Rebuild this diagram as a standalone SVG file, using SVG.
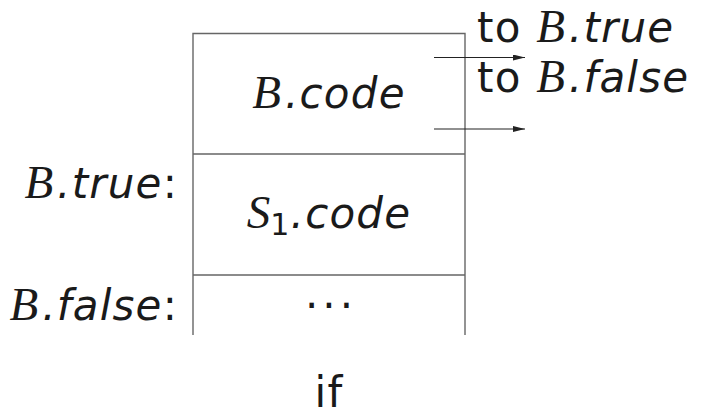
<svg xmlns="http://www.w3.org/2000/svg" width="702" height="414" viewBox="0 0 702 414">
<style>
.ln{stroke:#666;stroke-width:1.4;fill:none}
.ar{stroke:#222;stroke-width:1.2;fill:none}
text{font-family:"DejaVu Sans",sans-serif;font-size:42px;letter-spacing:1.2px;fill:#1a1a1a}
.m{font-family:"Liberation Serif",serif;font-style:italic;font-size:47px;letter-spacing:0}
.i{font-style:oblique}
.d{letter-spacing:4px}
</style>
<defs>
<marker id="ah" viewBox="0 0 12 6" refX="12" refY="3" markerWidth="12" markerHeight="6" markerUnits="userSpaceOnUse" orient="auto">
<path d="M0,0 L12,3 L0,6 Z" fill="#222"/>
</marker>
</defs>
<g id="frame">
<path class="ln" d="M193,335 V33.5 H465 V335 M193,154 H465 M193,275 H465"/>
</g>
<g id="bcode"><text x="329" y="108" text-anchor="middle"><tspan class="m">B</tspan><tspan class="i" dx="4">.code</tspan></text></g>
<g id="s1code"><text x="329" y="228" text-anchor="middle"><tspan class="m">S</tspan><tspan font-size="30" dy="7">1</tspan><tspan class="i" dy="-7">.code</tspan></text></g>
<g id="dots"><text class="d" x="331" y="320" text-anchor="middle">···</text></g>
<g id="btrue"><text x="178" y="198" text-anchor="end"><tspan class="m">B</tspan><tspan class="i" dx="4">.true</tspan>:</text></g>
<g id="bfalse"><text x="178" y="320" text-anchor="end"><tspan class="m">B</tspan><tspan class="i" dx="4">.false</tspan>:</text></g>
<g id="totrue"><text x="477" y="42">to <tspan class="m">B</tspan><tspan class="i" dx="4">.true</tspan></text></g>
<g id="tofalse"><text x="477" y="92">to <tspan class="m">B</tspan><tspan class="i" dx="4">.false</tspan></text></g>
<g id="caption"><text x="329" y="407" text-anchor="middle">if</text></g>
<g id="connectors">
<line class="ar" x1="434" y1="57.5" x2="525" y2="57.5" marker-end="url(#ah)"/>
<line class="ar" x1="434" y1="129" x2="525" y2="129" marker-end="url(#ah)"/>
</g>
</svg>
